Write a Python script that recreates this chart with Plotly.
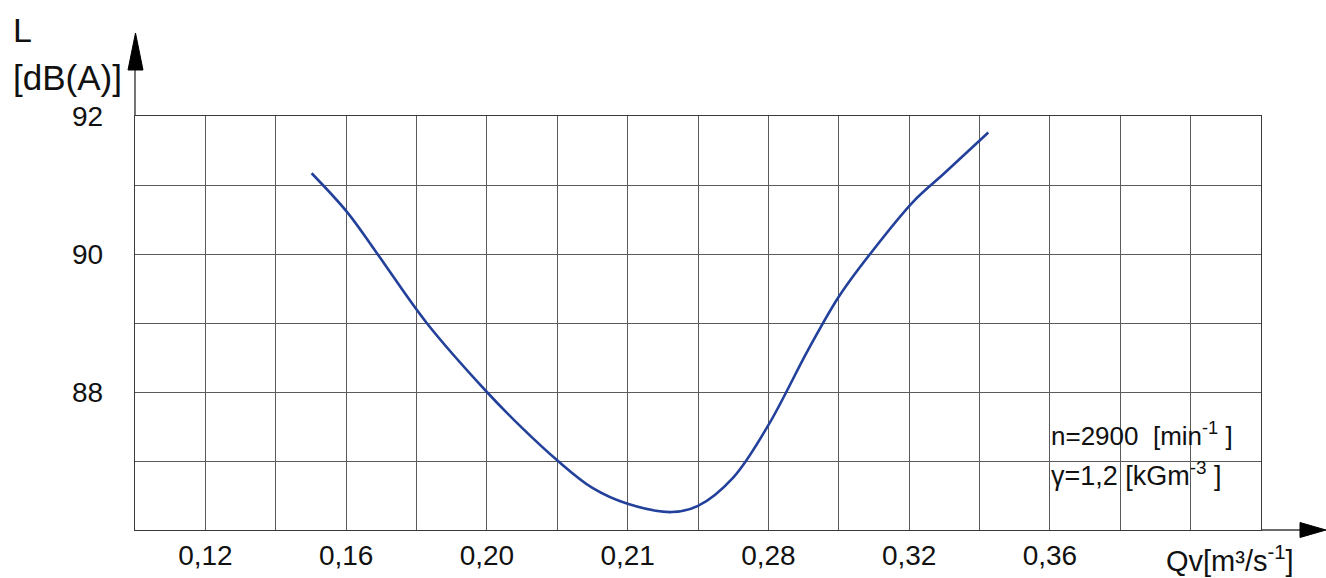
import plotly.graph_objects as go

# ---- data ----
qv = [0.1502, 0.1604, 0.1685, 0.1829, 0.2000, 0.2100, 0.2200, 0.2300,
      0.2400, 0.2525, 0.2600, 0.2700, 0.2800, 0.2913, 0.3000, 0.3089,
      0.3212, 0.3300, 0.3425]
level = [91.17, 90.60, 90.03, 89.00, 88.00, 87.48, 87.01, 86.61,
         86.38, 86.26, 86.35, 86.76, 87.52, 88.61, 89.38, 90.00,
         90.76, 91.17, 91.76]

x_tick_vals = [0.12, 0.16, 0.20, 0.24, 0.28, 0.32, 0.36]
x_tick_labels = ["0,12", "0,16", "0,20", "0,21", "0,28", "0,32", "0,36"]
y_tick_vals = [88, 90, 92]
y_tick_labels = ["88", "90", "92"]

x_range = [0.10, 0.42]
y_range = [86, 92]

# ---- layout geometry ----
W, H = 1326, 578
ML, MR, MT, MB = 135, 65, 116, 48
PW, PH = W - ML - MR, H - MT - MB

def px(xp):
    return (xp - ML) / PW

def py(yp):
    return (H - MB - yp) / PH

GRID = "#5a5a5a"
AX = "#3a3a3a"
CURVE = "#23419b"
TICKFONT = dict(family="Liberation Sans, Arial, sans-serif", size=28, color="#111")
TXTFONT = "Liberation Sans, Arial, sans-serif"

fig = go.Figure()
fig.add_trace(go.Scatter(x=qv, y=level, mode="lines",
                         line=dict(color=CURVE, width=2.6, shape="spline", smoothing=1.0),
                         hoverinfo="skip", showlegend=False))

fig.update_xaxes(range=x_range, tickvals=x_tick_vals, ticktext=x_tick_labels,
                 showgrid=True, gridcolor=GRID, gridwidth=1.2,
                 minor=dict(tick0=0.10, dtick=0.02, showgrid=True, gridcolor=GRID, gridwidth=1.2),
                 showline=True, linecolor=AX, linewidth=1.4, mirror=True, automargin=False,
                 zeroline=False, ticks="", tickfont=TICKFONT, ticklabelstandoff=0)
fig.update_yaxes(range=y_range, tickvals=y_tick_vals, ticktext=y_tick_labels,
                 showgrid=True, gridcolor=GRID, gridwidth=1.2,
                 minor=dict(tick0=86, dtick=1, showgrid=True, gridcolor=GRID, gridwidth=1.2),
                 showline=True, linecolor=AX, linewidth=1.4, mirror=True, automargin=False,
                 zeroline=False, ticks="", tickfont=TICKFONT, ticklabelstandoff=25)

shapes = [
    # y axis extension + arrow
    dict(type="line", xref="paper", yref="paper", x0=px(135), x1=px(135), y0=py(116), y1=py(68),
         line=dict(color=AX, width=1.4)),
    dict(type="path", xref="paper", yref="paper",
         path=f"M {px(128)},{py(70)} L {px(135.5)},{py(33)} L {px(143)},{py(70)} Z",
         fillcolor="#000", line=dict(color="#000", width=1)),
    # x axis extension + arrow
    dict(type="line", xref="paper", yref="paper", x0=px(1261), x1=px(1302), y0=py(530), y1=py(530),
         line=dict(color=AX, width=1.4)),
    dict(type="path", xref="paper", yref="paper",
         path=f"M {px(1300)},{py(522.5)} L {px(1326)},{py(530)} L {px(1300)},{py(537.5)} Z",
         fillcolor="#000", line=dict(color="#000", width=1)),
]

annotations = [
    dict(text="L", x=px(11), y=py(30), xref="paper", yref="paper", xanchor="left", yanchor="middle",
         showarrow=False, font=dict(family=TXTFONT, size=34, color="#111")),
    dict(text="[dB(A)]", x=px(11), y=py(77), xref="paper", yref="paper", xanchor="left", yanchor="middle",
         showarrow=False, font=dict(family=TXTFONT, size=35, color="#111")),
    dict(text="Qv[m³/s<sup>-1</sup>]", x=px(1164), y=py(559), xref="paper", yref="paper",
         xanchor="left", yanchor="middle", showarrow=False,
         font=dict(family=TXTFONT, size=29, color="#111")),
    dict(text="n=2900\u00a0\u00a0[min<sup>-1</sup>\u00a0]", x=px(1049), y=py(434), xref="paper", yref="paper",
         xanchor="left", yanchor="middle", showarrow=False,
         font=dict(family=TXTFONT, size=26, color="#111")),
    dict(text="γ=1,2\u00a0[kGm<sup>-3</sup>\u00a0]", x=px(1049), y=py(474), xref="paper", yref="paper",
         xanchor="left", yanchor="middle", showarrow=False,
         font=dict(family=TXTFONT, size=27, color="#111")),
]

fig.update_layout(width=W, height=H, margin=dict(l=ML, r=MR, t=MT, b=MB, pad=0),
                  paper_bgcolor="white", plot_bgcolor="white",
                  shapes=shapes, annotations=annotations, showlegend=False)

fig.write_html("out.html")
